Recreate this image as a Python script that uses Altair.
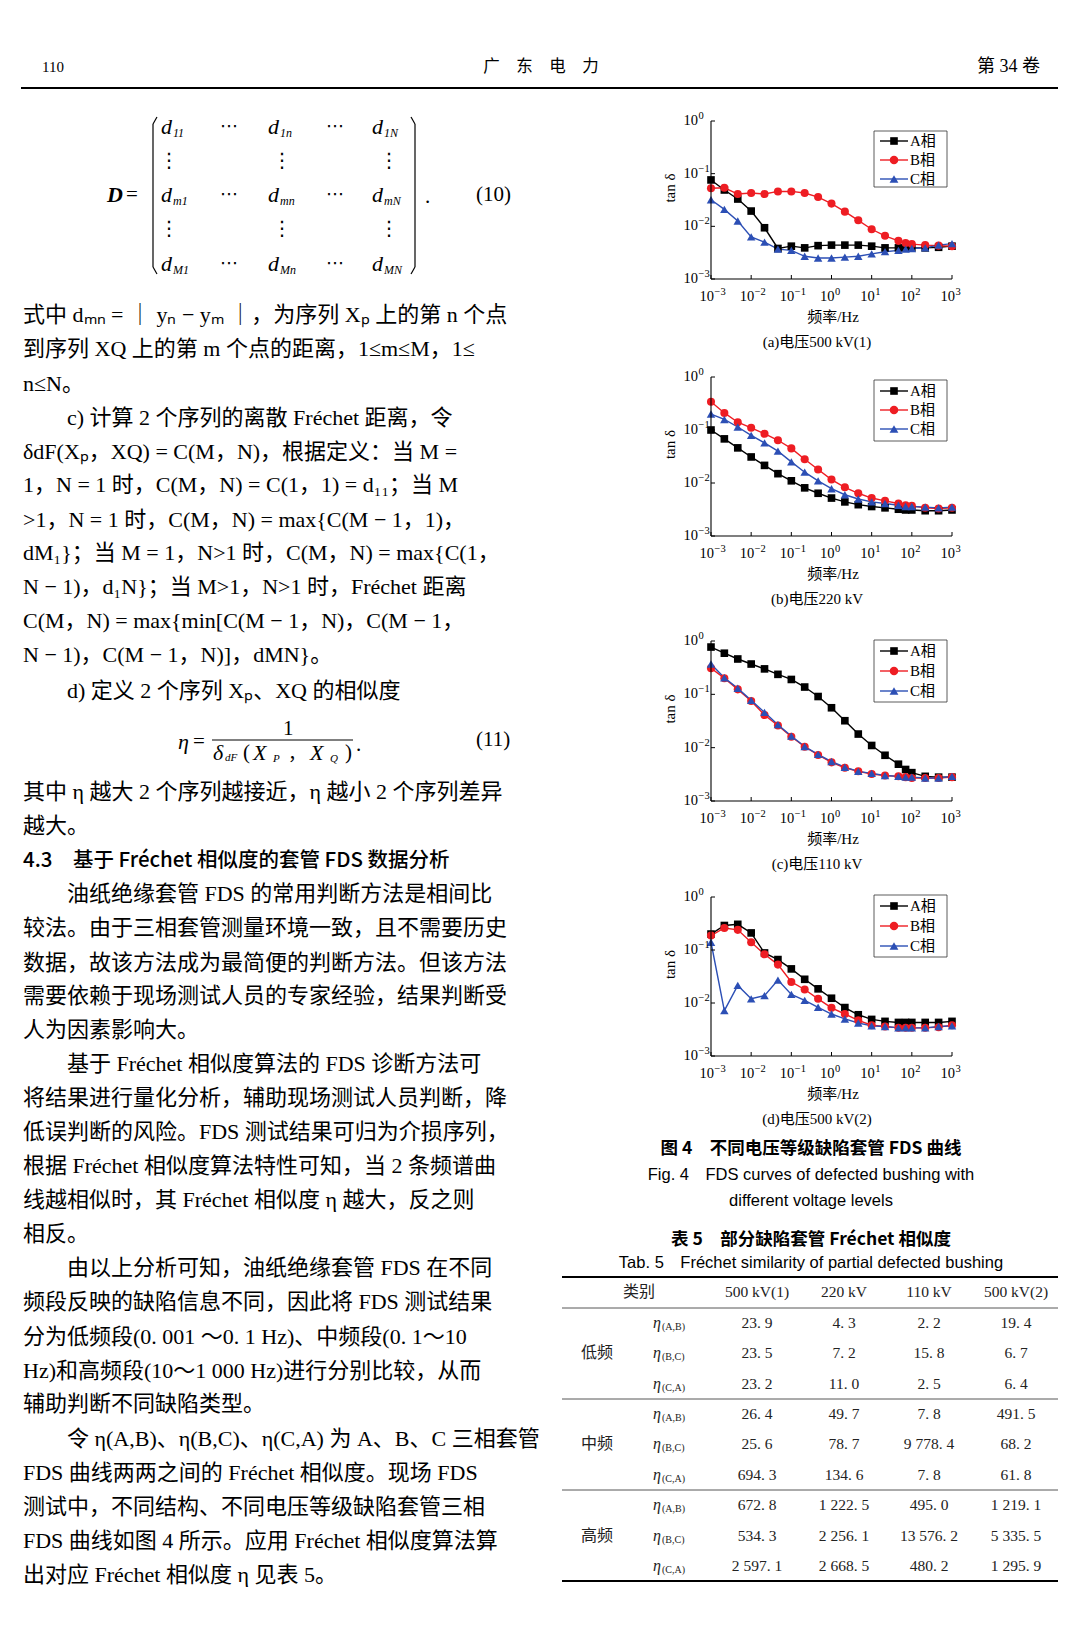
import altair as alt
import pandas as pd

M = 8
W, H = 1064, 1614
SERIF = "Liberation Serif, Noto Sans CJK SC"
CJK = "Noto Sans CJK SC"
SANS = "Liberation Sans, Noto Sans CJK SC"

# ---------------- data ----------------
FREQ = [0.001, 0.00215, 0.00464, 0.01, 0.0215, 0.0464, 0.1, 0.215, 0.464, 1,
        2.15, 4.64, 10, 21.5, 46.4, 70, 100, 215, 464, 1000]
SERIES = ["A相", "B相", "C相"]
COLORS = ["#000000", "#ee1d23", "#2c4fb5"]
SHAPES = ["square", "circle", "triangle-up"]
SIZES = [58, 72, 78]

A_500_1 = [0.076, 0.049, 0.033, 0.0195, 0.0094, 0.0038, 0.0042, 0.0039, 0.0043, 0.0044,
           0.0044, 0.0044, 0.0042, 0.0039, 0.0039, 0.0039, 0.0039, 0.0039, 0.0040, 0.0042]
B_500_1 = [0.053, 0.054, 0.041, 0.043, 0.041, 0.046, 0.046, 0.043, 0.036, 0.027,
           0.019, 0.013, 0.0088, 0.0066, 0.0053, 0.0048, 0.0046, 0.0044, 0.0043, 0.0042]
C_500_1 = [0.032, 0.021, 0.0126, 0.0063, 0.0050, 0.0037, 0.0035, 0.0027, 0.0025, 0.0025,
           0.0026, 0.0027, 0.0030, 0.0033, 0.0035, 0.0037, 0.0038, 0.0039, 0.0044, 0.0047]

A_220 = [0.1, 0.068, 0.046, 0.031, 0.0215, 0.015, 0.011, 0.0081, 0.0064, 0.0052,
         0.0044, 0.0039, 0.0036, 0.0034, 0.0032, 0.0031, 0.0031, 0.0030, 0.0030, 0.0031]
B_220 = [0.34, 0.21, 0.14, 0.11, 0.085, 0.064, 0.045, 0.028, 0.018, 0.0116,
         0.0083, 0.0064, 0.0052, 0.0046, 0.0041, 0.0038, 0.0037, 0.0034, 0.0033, 0.0034]
C_220 = [0.2, 0.158, 0.114, 0.079, 0.057, 0.04, 0.025, 0.016, 0.011, 0.0078,
         0.006, 0.005, 0.0044, 0.0041, 0.0038, 0.0036, 0.0036, 0.0035, 0.0034, 0.0035]

A_110 = [0.77, 0.59, 0.46, 0.37, 0.30, 0.237, 0.19, 0.137, 0.091, 0.056,
         0.032, 0.018, 0.011, 0.0072, 0.0049, 0.0039, 0.0034, 0.0029, 0.0028, 0.0028]
B_110 = [0.31, 0.2, 0.124, 0.075, 0.041, 0.026, 0.016, 0.0104, 0.0073, 0.0053,
         0.0042, 0.0036, 0.0032, 0.0030, 0.0029, 0.0028, 0.0027, 0.0027, 0.0027, 0.0028]
C_110 = [0.37, 0.205, 0.13, 0.077, 0.046, 0.027, 0.0165, 0.0105, 0.0075, 0.0055,
         0.0043, 0.0036, 0.0033, 0.0030, 0.0029, 0.0028, 0.0028, 0.0027, 0.0027, 0.0029]

A_500_2 = [0.2, 0.29, 0.305, 0.21, 0.088, 0.066, 0.044, 0.028, 0.0185, 0.0123,
           0.0082, 0.006, 0.0049, 0.0045, 0.0043, 0.0043, 0.0043, 0.0043, 0.0043, 0.0045]
B_500_2 = [0.187, 0.26, 0.24, 0.14, 0.083, 0.053, 0.025, 0.018, 0.012, 0.0081,
           0.0062, 0.0047, 0.0038, 0.0036, 0.0034, 0.0034, 0.0034, 0.0034, 0.0035, 0.0038]
C_500_2 = [0.14, 0.0072, 0.0215, 0.012, 0.0138, 0.027, 0.0145, 0.0112, 0.0083, 0.0062,
           0.005, 0.0042, 0.0037, 0.0036, 0.0034, 0.0034, 0.0034, 0.0034, 0.0036, 0.0037]

X_TICKS = [0.001, 0.01, 0.1, 1, 10, 100, 1000]
X_EXP = ["−3", "−2", "−1", "0", "1", "2", "3"]
Y_TICKS = [0.001, 0.01, 0.1, 1]
Y_EXP = ["−3", "−2", "−1", "0"]

PANEL_CAPTIONS = ["(a)电压500 kV(1)", "(b)电压220 kV", "(c)电压110 kV", "(d)电压500 kV(2)"]

TABLE_COLS = ["500 kV(1)", "220 kV", "110 kV", "500 kV(2)"]
TABLE_BANDS = ["低频", "中频", "高频"]
TABLE_PAIRS = ["(A,B)", "(B,C)", "(C,A)"]
ETA_500_1 = [23.9, 23.5, 23.2, 26.4, 25.6, 694.3, 672.8, 534.3, 2597.1]
ETA_220 = [4.3, 7.2, 11.0, 49.7, 78.7, 134.6, 1222.5, 2256.1, 2668.5]
ETA_110 = [2.2, 15.8, 2.5, 7.8, 9778.4, 7.8, 495.0, 13576.2, 480.2]
ETA_500_2 = [19.4, 6.7, 6.4, 491.5, 68.2, 61.8, 1219.1, 5335.5, 1295.9]

# ---------------- helpers ----------------
def T(rows, size, font=SERIF, align="left", weight="normal", style="normal",
      angle=0, color="black"):
    df = pd.DataFrame({"x": [r[0] - M for r in rows],
                       "y": [r[1] - M for r in rows],
                       "t": [r[2] for r in rows]})
    mk = dict(align=align, baseline="middle", fontSize=size, font=font,
              fontWeight=weight, fontStyle=style, color=color)
    if angle:
        mk["angle"] = angle
    return alt.Chart(df).mark_text(**mk).encode(
        x=alt.X("x:Q", scale=None, axis=None),
        y=alt.Y("y:Q", scale=None, axis=None),
        text="t:N")


def R(rows, width=1.0, color="black"):
    df = pd.DataFrame({"x": [r[0] - M for r in rows], "y": [r[1] - M for r in rows],
                       "x2": [r[2] - M for r in rows], "y2": [r[3] - M for r in rows]})
    return alt.Chart(df).mark_rule(strokeWidth=width, color=color).encode(
        x=alt.X("x:Q", scale=None, axis=None),
        y=alt.Y("y:Q", scale=None, axis=None),
        x2="x2:Q", y2="y2:Q")


layers = []

# ---------------- header ----------------
layers.append(T([(42, 67, "110")], 15, SERIF))
layers.append(T([(541, 67, "广　东　电　力")], 16.5, CJK, align="center"))
layers.append(T([(1040, 67, "第 34 卷")], 18, SERIF, align="right"))
layers.append(R([(21, 88, 1058, 88)], 2))

# ---------------- matrix formula (10) ----------------
rows_y = [127, 195, 264]
cols_x = [161, 268, 372]
subs = [["11", "1n", "1N"], ["m1", "mn", "mN"], ["M1", "Mn", "MN"]]
layers.append(T([(x, y, "d") for y in rows_y for x in cols_x], 22, SERIF, style="italic"))
layers.append(T([(x + 12, y + 6, subs[i][j]) for i, y in enumerate(rows_y)
                 for j, x in enumerate(cols_x)], 12, SERIF, style="italic"))
layers.append(T([(x, y, "⋯") for y in rows_y for x in [229, 335]], 18, "DejaVu Sans", align="center"))
layers.append(T([(x, y, "⋮") for y in [161, 229] for x in [169, 282, 389]], 20, "DejaVu Sans", align="center"))
layers.append(T([(107, 195, "D")], 22, SERIF, weight="bold", style="italic"))
layers.append(T([(126, 195, "="), (425, 197, "."), (476, 195, "(10)")], 21, SERIF))
layers.append(R([(153, 124, 153, 267), (153, 124, 157, 117), (153, 267, 157, 274),
                 (415, 124, 415, 267), (415, 124, 411, 117), (415, 267, 411, 274)], 1.2))

# ---------------- body text ----------------
BODY = [
    (23, 315, "式中 dₘₙ = ｜ yₙ − yₘ ｜，为序列 Xₚ 上的第 n 个点"),
    (23, 349, "到序列 XQ 上的第 m 个点的距离，1≤m≤M，1≤"),
    (23, 384, "n≤N。"),
    (67, 418, "c) 计算 2 个序列的离散 Fréchet 距离，令"),
    (23, 452, "δdF(Xₚ，XQ) = C(M，N)，根据定义：当 M ="),
    (23, 485, "1，N = 1 时，C(M，N) = C(1，1) = d₁₁；当 M"),
    (23, 520, ">1，N = 1 时，C(M，N) = max{C(M − 1，1)，"),
    (23, 553, "dM₁}；当 M = 1，N>1 时，C(M，N) = max{C(1，"),
    (23, 587, "N − 1)，d₁N}；当 M>1，N>1 时，Fréchet 距离"),
    (23, 621, "C(M，N) = max{min[C(M − 1，N)，C(M − 1，"),
    (23, 655, "N − 1)，C(M − 1，N)]，dMN}。"),
    (67, 691, "d) 定义 2 个序列 Xₚ、XQ 的相似度"),
    (23, 792, "其中 η 越大 2 个序列越接近，η 越小 2 个序列差异"),
    (23, 826, "越大。"),
    (67, 894, "油纸绝缘套管 FDS 的常用判断方法是相间比"),
    (23, 928, "较法。由于三相套管测量环境一致，且不需要历史"),
    (23, 963, "数据，故该方法成为最简便的判断方法。但该方法"),
    (23, 996, "需要依赖于现场测试人员的专家经验，结果判断受"),
    (23, 1030, "人为因素影响大。"),
    (67, 1064, "基于 Fréchet 相似度算法的 FDS 诊断方法可"),
    (23, 1098, "将结果进行量化分析，辅助现场测试人员判断，降"),
    (23, 1132, "低误判断的风险。FDS 测试结果可归为介损序列，"),
    (23, 1166, "根据 Fréchet 相似度算法特性可知，当 2 条频谱曲"),
    (23, 1200, "线越相似时，其 Fréchet 相似度 η 越大，反之则"),
    (23, 1234, "相反。"),
    (67, 1268, "由以上分析可知，油纸绝缘套管 FDS 在不同"),
    (23, 1302, "频段反映的缺陷信息不同，因此将 FDS 测试结果"),
    (23, 1337, "分为低频段(0. 001 ～0. 1 Hz)、中频段(0. 1～10"),
    (23, 1371, "Hz)和高频段(10～1 000 Hz)进行分别比较，从而"),
    (23, 1404, "辅助判断不同缺陷类型。"),
    (67, 1439, "令 η(A,B)、η(B,C)、η(C,A) 为 A、B、C 三相套管"),
    (23, 1473, "FDS 曲线两两之间的 Fréchet 相似度。现场 FDS"),
    (23, 1507, "测试中，不同结构、不同电压等级缺陷套管三相"),
    (23, 1541, "FDS 曲线如图 4 所示。应用 Fréchet 相似度算法算"),
    (23, 1575, "出对应 Fréchet 相似度 η 见表 5。"),
]
layers.append(T(BODY, 22, SERIF))
layers.append(T([(23, 861, "4.3　基于 Fréchet 相似度的套管 FDS 数据分析")], 20.5, CJK, weight=500))

# ---------------- formula (11) ----------------
layers.append(T([(178, 742, "η"), (213, 753, "δ"), (253, 753, "X"), (310, 753, "X")],
                22, SERIF, style="italic"))
layers.append(T([(193, 742, "="), (283, 729, "1"), (243, 753, "("), (345, 753, ")"),
                 (356, 745, "."), (476, 740, "(11)")], 21, SERIF))
layers.append(T([(288, 755, "，")], 18, CJK))
layers.append(T([(225, 758, "dF"), (273, 759, "P"), (330, 759, "Q")], 11, SERIF, style="italic"))
layers.append(R([(212, 740, 353, 740)], 1))

# ---------------- FDS panels ----------------
PANELS = [
    ((A_500_1, B_500_1, C_500_1), (711, 952, 121, 279), (131, 187, [141, 160, 179])),
    ((A_220, B_220, C_220), (711, 952, 377, 536), (380, 441, [391, 410, 429])),
    ((A_110, B_110, C_110), (711, 952, 641, 801), (640, 702, [651, 671, 691])),
    ((A_500_2, B_500_2, C_500_2), (711, 952, 897, 1056), (895, 957, [906, 926, 946])),
]

xt_df = pd.DataFrame({"t": X_TICKS, "e": X_EXP, "b": ["10"] * len(X_TICKS)})
yt_df = pd.DataFrame({"t": Y_TICKS, "e": Y_EXP, "b": ["10"] * len(Y_TICKS)})
LABEL_FONT = "Liberation Serif"

leg_rows = []
leg_boxes = []
axis_texts = []
xlab_texts = []
cap_texts = []
leg_texts = []
for pi, (series, box, leg) in enumerate(PANELS):
    x0, x1, yt, yb = box
    recs = []
    for name, vals in zip(SERIES, series):
        for f, v in zip(FREQ, vals):
            recs.append({"f": f, "v": v, "s": name})
    df = pd.DataFrame(recs)
    xs = alt.Scale(type="log", domain=[1e-3, 1e3], range=[x0 - M, x1 - M], nice=False)
    ys = alt.Scale(type="log", domain=[1e-3, 1], range=[yb - M, yt - M], nice=False)
    col = alt.Color("s:N", scale=alt.Scale(domain=SERIES, range=COLORS), legend=None)
    shp = alt.Shape("s:N", scale=alt.Scale(domain=SERIES, range=SHAPES), legend=None)
    siz = alt.Size("s:N", scale=alt.Scale(domain=SERIES, range=SIZES), legend=None)
    X = lambda fld: alt.X(fld, scale=xs, axis=None)
    Y = lambda fld: alt.Y(fld, scale=ys, axis=None)

    line = alt.Chart(df).mark_line(strokeWidth=1.4).encode(
        x=X("f:Q"), y=Y("v:Q"), color=col)
    pts = alt.Chart(df).mark_point(filled=True, opacity=1).encode(
        x=X("f:Q"), y=Y("v:Q"), color=col, shape=shp, size=siz)
    # axis lines
    xdom = alt.Chart(pd.DataFrame({"a": [1e-3], "b": [1e3]})).mark_rule(
        color="black", strokeWidth=1.1).encode(x=X("a:Q"), x2="b:Q", y=alt.value(yb - M))
    ydom = alt.Chart(pd.DataFrame({"a": [1e-3], "b": [1.0]})).mark_rule(
        color="black", strokeWidth=1.1).encode(y=Y("a:Q"), y2="b:Q", x=alt.value(x0 - M))
    # inward ticks
    xtk = alt.Chart(xt_df).mark_rule(color="black").encode(
        x=X("t:Q"), y=alt.value(yb - M), y2=alt.value(yb - M - 4))
    ytk = alt.Chart(yt_df).mark_rule(color="black").encode(
        y=Y("t:Q"), x=alt.value(x0 - M), x2=alt.value(x0 - M + 4))
    # tick labels: base "10" + superscript exponent
    xlb = alt.Chart(xt_df).mark_text(align="right", baseline="middle", fontSize=14.5,
                                     font=LABEL_FONT, color="black", dx=3).encode(
        x=X("t:Q"), y=alt.value(yb - M + 18), text="b:N")
    xle = alt.Chart(xt_df).mark_text(align="left", baseline="middle", fontSize=10.5,
                                     font=LABEL_FONT, color="black", dx=3.5).encode(
        x=X("t:Q"), y=alt.value(yb - M + 13), text="e:N")
    ylb = alt.Chart(yt_df).mark_text(align="right", baseline="middle", fontSize=14.5,
                                     font=LABEL_FONT, color="black").encode(
        y=Y("t:Q"), x=alt.value(x0 - M - 13), text="b:N")
    yle = alt.Chart(yt_df).mark_text(align="left", baseline="middle", fontSize=10.5,
                                     font=LABEL_FONT, color="black", dy=-5).encode(
        y=Y("t:Q"), x=alt.value(x0 - M - 12.5), text="e:N")
    layers.append(alt.layer(line, pts, xdom, ydom, xtk, ytk, xlb, xle, ylb, yle))

    axis_texts.append((670, (yt + yb) / 2 - 12, "tan δ"))
    xlab_texts.append((833, yb + 38, "频率/Hz"))
    cap_texts.append((817, yb + 63, PANEL_CAPTIONS[pi]))
    ltop, lbot, lys = leg
    leg_boxes.append({"x": 874 - M, "x2": 947 - M, "y": ltop - M, "y2": lbot - M})
    for i, ly in enumerate(lys):
        leg_rows.append({"x": 880 - M, "x2": 908 - M, "xm": 894 - M, "y": ly - M,
                         "c": COLORS[i], "sh": SHAPES[i], "sz": SIZES[i]})
        leg_texts.append((910, ly, SERIES[i]))

layers.append(T(axis_texts, 15, SERIF, align="center", angle=270))
layers.append(T(xlab_texts, 15, SERIF, align="center"))
layers.append(T(cap_texts, 15, SERIF, align="center"))

layers.append(alt.Chart(pd.DataFrame(leg_boxes)).mark_rect(
    fill="white", stroke="#333333", strokeWidth=0.8).encode(
    x=alt.X("x:Q", scale=None, axis=None), x2="x2:Q",
    y=alt.Y("y:Q", scale=None, axis=None), y2="y2:Q"))
ldf = pd.DataFrame(leg_rows)
layers.append(alt.Chart(ldf).mark_rule(strokeWidth=1.4).encode(
    x=alt.X("x:Q", scale=None, axis=None), x2="x2:Q",
    y=alt.Y("y:Q", scale=None, axis=None),
    color=alt.Color("c:N", scale=None, legend=None)))
layers.append(alt.Chart(ldf).mark_point(filled=True, opacity=1).encode(
    x=alt.X("xm:Q", scale=None, axis=None),
    y=alt.Y("y:Q", scale=None, axis=None),
    color=alt.Color("c:N", scale=None, legend=None),
    shape=alt.Shape("sh:N", scale=None, legend=None),
    size=alt.Size("sz:Q", scale=None, legend=None)))
layers.append(T(leg_texts, 15, SERIF))

# ---------------- captions ----------------
layers.append(T([(811, 1149, "图 4　不同电压等级缺陷套管 FDS 曲线"),
                 (811, 1240, "表 5　部分缺陷套管 Fréchet 相似度")], 17.5, CJK,
                align="center", weight="bold"))
layers.append(T([(811, 1175, "Fig. 4　FDS curves of defected bushing with"),
                 (811, 1201, "different voltage levels"),
                 (811, 1263, "Tab. 5　Fréchet similarity of partial defected bushing")],
                16.5, SANS, align="center"))

# ---------------- table ----------------
def fmt(v):
    s = f"{v:.1f}"
    ip, dp = s.split(".")
    g = ""
    while len(ip) > 3:
        g = " " + ip[-3:] + g
        ip = ip[:-3]
    return f"{ip}{g}. {dp}"

layers.append(R([(562, 1277, 1058, 1277), (562, 1581, 1058, 1581)], 1.8))
layers.append(R([(562, 1308, 1058, 1308), (562, 1399, 1058, 1399), (562, 1490, 1058, 1490)],
                0.9, "#444444"))
COL_X = [757, 844, 929, 1016]
layers.append(T([(639, 1292, "类别")], 16, CJK, align="center", color="#222222"))
layers.append(T([(x, 1292, c) for x, c in zip(COL_X, TABLE_COLS)], 15.5, SERIF,
                align="center", color="#222222"))
ROW_Y = [1323, 1353, 1384, 1414, 1444, 1475, 1505, 1536, 1566]
layers.append(T([(597, ROW_Y[3 * b + 1], name) for b, name in enumerate(TABLE_BANDS)], 16, CJK,
                align="center", color="#222222"))
layers.append(T([(653, y, "η") for y in ROW_Y], 16, SERIF, style="italic", color="#222222"))
layers.append(T([(662, y + 4, TABLE_PAIRS[i % 3]) for i, y in enumerate(ROW_Y)], 10, SERIF,
                color="#222222"))
vals_rows = []
for cx, col_vals in zip(COL_X, [ETA_500_1, ETA_220, ETA_110, ETA_500_2]):
    for y, v in zip(ROW_Y, col_vals):
        vals_rows.append((cx, y, fmt(v)))
layers.append(T(vals_rows, 15.5, SERIF, align="center", color="#222222"))

chart = alt.layer(*layers).resolve_scale(
    x="independent", y="independent", color="independent", shape="independent",
    size="independent"
).properties(
    width=W, height=H, padding=0,
    autosize=alt.AutoSizeParams(type="none"), background="white"
).configure_view(stroke=None)

chart.save("out.html", embed_options={"renderer": "svg", "actions": False})
